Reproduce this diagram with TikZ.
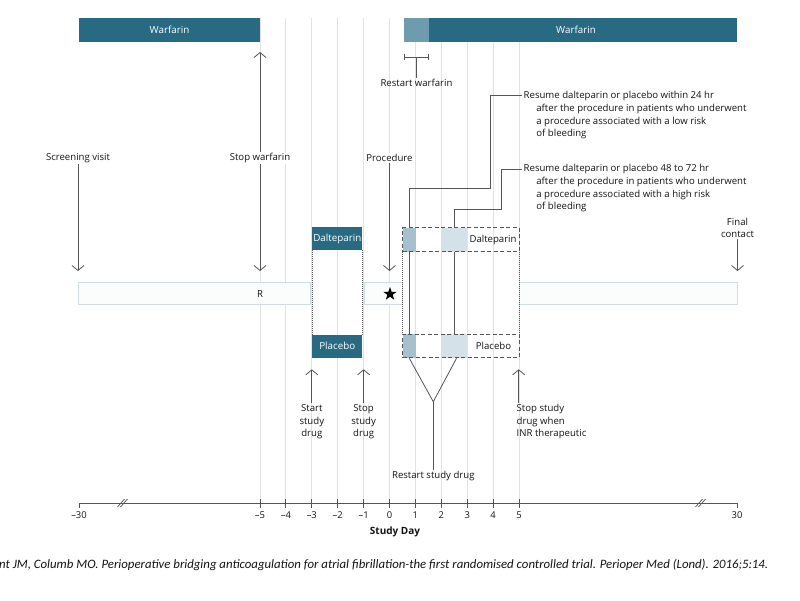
\documentclass[tikz,border=0pt]{standalone}
\usepackage{fontspec}
\setmainfont{Open Sans}
\newfontfamily\citefont{Carlito}
\usetikzlibrary{arrows.meta,shapes.geometric}
\definecolor{tealA}{HTML}{286A82}
\definecolor{tealB}{HTML}{6E9CAE}
\definecolor{gridc}{HTML}{E2E2E2}
\definecolor{arrc}{HTML}{555555}
\definecolor{bdark}{HTML}{A6C0CE}
\definecolor{blight}{HTML}{D5E1E8}
\definecolor{rborder}{HTML}{CFDCE2}
\definecolor{rfill}{HTML}{FBFCFC}
\definecolor{txtc}{HTML}{141414}
\begin{document}
\begin{tikzpicture}[x=1pt,y=-1pt,
  txt/.style={font=\fontsize{9.6}{12.7}\selectfont, text=txtc, inner sep=1pt},
  wlab/.style={txt, fill=white},
  barbox/.style={fill=tealA, draw=none, text=white, inner sep=0pt, outer sep=0pt, font=\fontsize{9.8}{12}\selectfont},
  gridline/.style={draw=gridc, line width=0.9pt},
  conn/.style={draw=arrc, line width=0.8pt},
  arr/.style={conn, -{Straight Barb[length=5pt,width=12pt]}},
  darr/.style={conn, {Straight Barb[length=5pt,width=12pt]}-{Straight Barb[length=5pt,width=12pt]}},
  rbar/.style={draw=rborder, fill=rfill, line width=0.8pt},
  dashbox/.style={draw=arrc, line width=0.8pt, dash pattern=on 4pt off 2.5pt},
  dotline/.style={draw=arrc, line width=0.7pt, dash pattern=on 0.8pt off 1.2pt},
  ticklab/.style={font=\fontsize{9.4}{11}\selectfont, text=txtc, inner sep=1pt}
]
\useasboundingbox (0,0) rectangle (800,600);
\fill[white] (0,0) rectangle (800,600);

% grid
\foreach \d in {-5,...,5}
  \draw[gridline] ({389.5+25.9*\d},18) -- ({389.5+25.9*\d},503);

% warfarin bars
\node[barbox, minimum width=181pt, minimum height=24pt, anchor=north west] (warfL) at (79,18) {Warfarin};
\node[barbox, minimum width=333pt, minimum height=24pt, anchor=north west] (warfR) at (404,18) {};
\node[barbox, fill=tealB, minimum width=25pt, minimum height=24pt, anchor=north west] (warfRl) at (404,18) {};
\node[text=white, font=\fontsize{9.8}{12}\selectfont, inner sep=0pt] (warfRt) at (576,30) {Warfarin};

% restart warfarin
\coordinate (rwL) at (404,57);
\coordinate (rwR) at (429,57);
\coordinate (rwM) at (416.5,57);
\draw[conn, {Bar[width=6pt]}-{Bar[width=6pt]}] (rwL) -- (rwR);
\node[txt] (rwlab) at (416.5,83) {Restart warfarin};
\draw[conn] (rwM) -- (rwlab.north);

% R bar segments
\draw[rbar] (78.5,282.5) rectangle (310,304);
\draw[rbar] (364,282.5) rectangle (402.7,304);
\draw[rbar] (519.3,282.5) rectangle (737,304);
\node[txt] (R) at (260,294) {R};
\node[star, star points=5, star point ratio=2.5, fill=black, minimum size=14pt, inner sep=0pt] (star) at (390,294) {};

% top arrows and labels
\node[wlab] (sv) at (78,158) {Screening visit};
\coordinate (svEnd) at (78,271);
\draw[arr] (sv.south) -- (svEnd);

\node[wlab] (sw) at (260,158) {Stop warfarin};
\coordinate (swTop) at (260,52);
\coordinate (swEnd) at (260,271);
\draw[darr] (swTop) -- (swEnd);
\node[wlab] at (sw) {Stop warfarin};

\node[wlab] (proc) at (389.5,158) {Procedure};
\coordinate (procEnd) at (389.5,271);
\draw[arr] (proc.south) -- (procEnd);

\node[wlab, align=center] (fc) at (737.5,228) {Final\\contact};
\coordinate (fcEnd) at (737.5,271);
\draw[arr] (fc.south) -- (fcEnd);

% left study drug boxes
\node[barbox, minimum width=50pt, minimum height=22.7pt] (dalL) at (337.3,238.7) {Dalteparin};
\node[barbox, minimum width=50pt, minimum height=22.7pt] (plaL) at (337.3,346.3) {Placebo};
\draw[dotline] (dalL.south west) -- (plaL.north west);
\draw[dotline] (dalL.south east) -- (plaL.north east);

% connectors from callouts (behind boxes)
\coordinate (c1in) at (522,95.7);
\coordinate (c1a) at (490,95.7);
\coordinate (c1b) at (490,188.3);
\coordinate (c1c) at (409.3,188.3);
\coordinate (c1d) at (409.3,334.3);
\draw[conn] (c1in) -- (c1a) -- (c1b) -- (c1c) -- (c1d);
\coordinate (c2in) at (522,169.3);
\coordinate (c2a) at (501.7,169.3);
\coordinate (c2b) at (501.7,209.3);
\coordinate (c2c) at (454.2,209.3);
\coordinate (c2d) at (454.2,334.3);
\draw[conn] (c2in) -- (c2a) -- (c2b) -- (c2c) -- (c2d);

% right dashed boxes
\fill[bdark] (402.7,227.7) rectangle (415.7,251.7);
\fill[blight] (441.2,227.7) rectangle (467.3,251.7);
\fill[bdark] (402.7,334.3) rectangle (415.7,357.7);
\fill[blight] (441.2,334.3) rectangle (467.3,357.7);
\node[dashbox, minimum width=116.6pt, minimum height=24pt, inner sep=0pt] (dalR) at (461,239.7) {};
\node[dashbox, minimum width=116.6pt, minimum height=23.4pt, inner sep=0pt] (plaR) at (461,346) {};
\node[txt] (dalRt) at (493,240) {Dalteparin};
\node[txt] (plaRt) at (493.5,346) {Placebo};
\draw[dotline] (dalR.south west) -- (plaR.north west);
\draw[dotline] (dalR.south east) -- (plaR.north east);

% callout texts
\node[txt, align=left, anchor=west] (c1) at (522.5,115.3) {Resume dalteparin or placebo within 24 hr\\\hspace*{12.7pt}after the procedure in patients who underwent\\\hspace*{12.7pt}a procedure associated with a low risk\\\hspace*{12.7pt}of bleeding};
\node[txt, align=left, anchor=west] (c2) at (522.5,188.3) {Resume dalteparin or placebo 48 to 72 hr\\\hspace*{12.7pt}after the procedure in patients who underwent\\\hspace*{12.7pt}a procedure associated with a high risk\\\hspace*{12.7pt}of bleeding};

% restart study drug
\coordinate (yL) at (409.3,358.3);
\coordinate (yR) at (456.5,358.3);
\coordinate (yM) at (433.3,401.7);
\node[txt] (rsd) at (433.3,476) {Restart study drug};
\draw[conn] (yL) -- (yM) -- (yR);
\draw[conn] (yM) -- (rsd.north);

% bottom arrows
\node[txt, align=center] (ssd) at (311.8,421.7) {Start\\study\\drug};
\coordinate (ssdTip) at (311.8,369.3);
\draw[arr] (ssd.north) -- (ssdTip);
\node[txt, align=center] (psd) at (363.6,421.7) {Stop\\study\\drug};
\coordinate (psdTip) at (363.6,369.3);
\draw[arr] (psd.north) -- (psdTip);
\node[txt, align=left, anchor=west] (inr) at (515.5,421.7) {Stop study\\drug when\\INR therapeutic};
\coordinate (inrBase) at (518.7,403);
\coordinate (inrTip) at (518.7,369.3);
\draw[arr] (inrBase) -- (inrTip);

% axis
\coordinate (axL) at (79,503);
\coordinate (axR) at (737,503);
\draw[draw=arrc, line width=1pt] (axL) -- (axR);
\draw[draw=arrc, line width=0.9pt] (79,503) -- (79,507.5);
\draw[draw=arrc, line width=0.9pt] (737,503) -- (737,507.5);
\foreach \d in {-5,...,5}
  \draw[draw=arrc, line width=0.9pt] ({389.5+25.9*\d},499) -- ({389.5+25.9*\d},507.5);
\node[ticklab] (tm30) at (79,515.5) {–30};
\node[ticklab] (tp30) at (737,515.5) {30};
\foreach \d/\l in {-5/–5,-4/–4,-3/–3,-2/–2,-1/–1,0/0,1/1,2/2,3/3,4/4,5/5}
  \node[ticklab] (t\d) at ({389.5+25.9*\d},515.5) {\l};
\node[ticklab, font=\fontsize{10}{11}\selectfont\bfseries] (sdlab) at (395,532) {Study Day};
% break marks
\draw[draw=arrc, line width=0.7pt] (117.5,507) -- (124.5,499);
\draw[draw=arrc, line width=0.7pt] (120.5,507) -- (127.5,499);
\draw[draw=arrc, line width=0.7pt] (695.5,507) -- (702.5,499);
\draw[draw=arrc, line width=0.7pt] (698.5,507) -- (705.5,499);

% citation
\node[anchor=west, inner sep=0pt, font=\citefont\itshape\fontsize{12.8}{14}\selectfont, text=txtc] (cite) at (-1,565) {nt JM, Columb MO. Perioperative bridging anticoagulation for atrial fibrillation-the first randomised controlled trial. Perioper Med (Lond). 2016;5:14.};
\end{tikzpicture}
\end{document}
